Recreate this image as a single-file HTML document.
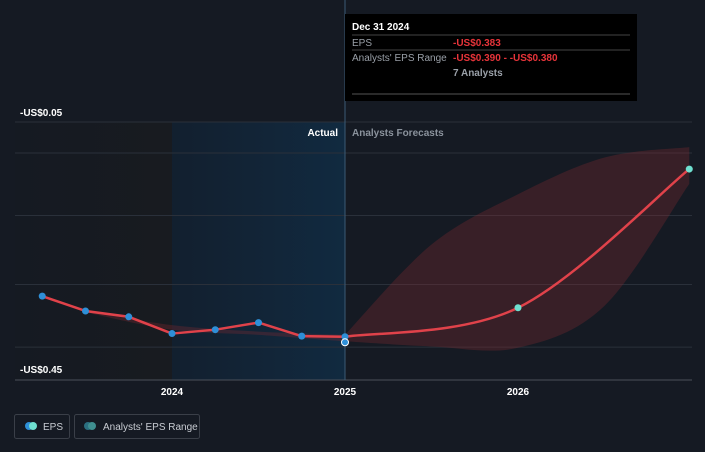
<!DOCTYPE html>
<html><head><meta charset="utf-8"><style>
html,body{margin:0;padding:0;background:#151a23;}
body{width:705px;height:447px;overflow:hidden;font-family:"Liberation Sans",sans-serif;}
svg text{font-family:"Liberation Sans",sans-serif;}
</style></head><body>
<svg id="chart" width="705" height="447" viewBox="0 0 705 447" xmlns="http://www.w3.org/2000/svg">
<defs>
<linearGradient id="pastG" x1="0" x2="1" y1="0" y2="0"><stop offset="0" stop-color="#151a22"/><stop offset="1" stop-color="#181b20"/></linearGradient>
<linearGradient id="actG" x1="0" x2="1" y1="0" y2="0"><stop offset="0" stop-color="#122030" stop-opacity="0.9"/><stop offset="1" stop-color="#112a40"/></linearGradient>
</defs>
<rect x="15" y="122" width="157" height="258" fill="url(#pastG)"/>
<rect x="172" y="122" width="173" height="258" fill="url(#actG)"/>
<g id="grid"></g>
<line x1="345" y1="0" x2="345" y2="380" stroke="#3a5a75" stroke-width="1"/>
<g id="marks"></g>
<text x="20" y="116" fill="#ffffff" font-size="10" font-weight="bold">-US$0.05</text>
<text x="20" y="373" fill="#ffffff" font-size="10" font-weight="bold">-US$0.45</text>
<text x="338" y="136" fill="#ffffff" font-size="10" font-weight="bold" text-anchor="end">Actual</text>
<text x="352" y="136" fill="#8a929c" font-size="10" font-weight="bold">Analysts Forecasts</text>
<g id="xt"></g>
<g>
<rect x="345" y="14" width="292" height="87" fill="#000000"/>
<text x="352" y="30" fill="#fff" font-size="10" font-weight="bold">Dec 31 2024</text>
<line x1="352" y1="35" x2="630" y2="35" stroke="#444"/>
<text x="352" y="46" fill="#9aa0a8" font-size="10">EPS</text>
<text x="453" y="46" fill="#e8343a" font-size="10" font-weight="bold">-US$0.383</text>
<line x1="352" y1="50" x2="630" y2="50" stroke="#444"/>
<text x="352" y="61" fill="#9aa0a8" font-size="10">Analysts' EPS Range</text>
<text x="453" y="61" fill="#e8343a" font-size="10" font-weight="bold">-US$0.390 - <tspan>-US$0.380</tspan></text>
<text x="453" y="76" fill="#9aa0a8" font-size="10" font-weight="bold">7 Analysts</text>
<line x1="352" y1="94" x2="630" y2="94" stroke="#555"/>
</g>
<g>
<rect x="14.5" y="414.5" width="55" height="24" fill="none" stroke="#3a3f48" rx="2"/>
<circle cx="29" cy="426" r="4" fill="#2e8fd8"/><circle cx="33" cy="426" r="4" fill="#6fe0d0"/>
<text x="43" y="430" fill="#c8ccd2" font-size="10">EPS</text>
</g>
<g>
<rect x="74.5" y="414.5" width="125" height="24" fill="none" stroke="#3a3f48" rx="2"/>
<circle cx="88" cy="426" r="4" fill="#2b6f80"/><circle cx="92" cy="426" r="4" fill="#3f8f90"/>
<text x="103" y="430" fill="#c8ccd2" font-size="10">Analysts' EPS Range</text>
</g>
</svg>
<script>
const histDates=[2023.25,2023.5,2023.75,2024.0,2024.25,2024.5,2024.75,2025.0];
const histEps=[-0.320,-0.343,-0.352,-0.378,-0.372,-0.361,-0.382,-0.383];
const fcDates=[2025.0,2026.0,2026.99];
const fcEps=[-0.383,-0.338,-0.123];
const rangeDates=[2025.0,2025.5,2026.0,2026.5,2026.99];
const rangeLow=[-0.390,-0.398,-0.400,-0.335,-0.146];
const rangeHigh=[-0.380,-0.240,-0.162,-0.105,-0.089];
const histRangeDates=[2023.5,2024.0,2024.5,2025.0];
const histRangeLow=[-0.345,-0.372,-0.380,-0.390];
const histRangeHigh=[-0.343,-0.365,-0.375,-0.380];
const gridVals=[-0.05,-0.098,-0.195,-0.302,-0.399];
const xTicks=[2024,2025,2026];
const xTickLabels=["2024","2025","2026"];
const X=d=>172+(d-2024)*173;
const Y=v=>122+(-0.05-v)/0.4*258;
const NS="http://www.w3.org/2000/svg";
function mk(tag,attrs,parent){const e=document.createElementNS(NS,tag);for(const k in attrs)e.setAttribute(k,attrs[k]);parent.appendChild(e);return e;}
function smooth(pts){let d=`M${pts[0][0]},${pts[0][1]}`;for(let i=0;i<pts.length-1;i++){const p0=pts[i-1]||pts[i],p1=pts[i],p2=pts[i+1],p3=pts[i+2]||p2;const c1=[p1[0]+(p2[0]-p0[0])/6,p1[1]+(p2[1]-p0[1])/6],c2=[p2[0]-(p3[0]-p1[0])/6,p2[1]-(p3[1]-p1[1])/6];d+=` C${c1[0]},${c1[1]} ${c2[0]},${c2[1]} ${p2[0]},${p2[1]}`;}return d;}
const grid=document.getElementById('grid'),marks=document.getElementById('marks'),xt=document.getElementById('xt');
gridVals.forEach(v=>{const l=mk('line',{x1:15,x2:692,y1:Y(v),y2:Y(v),stroke:'#2a303a','stroke-width':1},grid);

});
const ax=mk('line',{x1:15,x2:692,y1:380,y2:380,stroke:'#4a505a'},grid);


xTicks.forEach((t,i)=>{const tx=mk('text',{x:X(t),y:395,fill:'#fff','font-size':10,'font-weight':'bold','text-anchor':'middle'},xt);tx.textContent=xTickLabels[i];

});
function band(ds,lo,hi,op,name){const up=ds.map((d,i)=>[X(d),Y(hi[i])]);const dn=ds.map((d,i)=>[X(d),Y(lo[i])]).reverse();
const d=smooth(up)+' L'+smooth(dn).slice(1)+' Z';const p=mk('path',{d:d,fill:'#8b2a33','fill-opacity':op},marks);

}
band(histRangeDates,histRangeLow,histRangeHigh,0.3,'history-range-band');
band(rangeDates,rangeLow,rangeHigh,0.3,'forecast-range-band');
const hp=histDates.map((d,i)=>[X(d),Y(histEps[i])]);
const hl=mk('path',{d:'M'+hp.map(p=>p.join(',')).join(' L'),fill:'none',stroke:'#e0424a','stroke-width':2.5,'stroke-linejoin':'round'},marks);


const fp=fcDates.map((d,i)=>[X(d),Y(fcEps[i])]);
const fl=mk('path',{d:smooth(fp),fill:'none',stroke:'#e0424a','stroke-width':2.5},marks);


hp.forEach(p=>{const c=mk('circle',{cx:p[0],cy:p[1],r:3.5,fill:'#2e8fd8'},marks);

});
const c2=mk('circle',{cx:X(2025),cy:Y(-0.39)+1,r:3.5,fill:'#2e8fd8',stroke:'#fff','stroke-width':1},marks);


fp.slice(1).forEach(p=>{const c=mk('circle',{cx:p[0],cy:p[1],r:3.5,fill:'#6fe0d0'},marks);

});
</script>
</body></html>
